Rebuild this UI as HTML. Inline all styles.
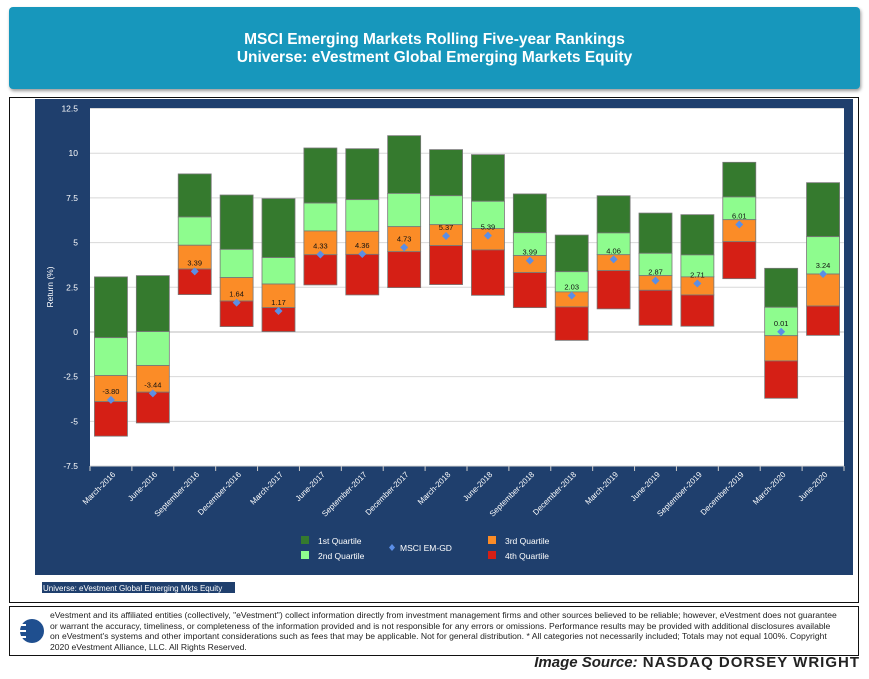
<!DOCTYPE html>
<html><head><meta charset="utf-8"><style>
body{margin:0;width:869px;height:679px;background:#fff;font-family:"Liberation Sans",Arial,sans-serif;position:relative;overflow:hidden}
#banner{position:absolute;left:9px;top:7px;width:851px;height:82px;background:#1797bc;border-radius:4px;box-shadow:1px 2px 3px #999;color:#fff;text-align:center;font-weight:bold;font-size:15.5px;line-height:18px;box-sizing:border-box;padding-top:24px}
#frame{position:absolute;left:9px;top:97px;width:850px;height:506px;border:1.5px solid #111;box-sizing:border-box}
#foot{position:absolute;left:9px;top:606px;width:850px;height:50px;border:1.5px solid #111;box-sizing:border-box;font-size:8.6px;letter-spacing:0px;color:#222;line-height:10.6px;padding:3px 0 0 40px;white-space:nowrap;overflow:hidden}
#src{position:absolute;right:9px;top:654px;font-size:15px;color:#222;letter-spacing:1px}
</style></head><body>
<div id="banner">MSCI Emerging Markets Rolling Five-year Rankings<br>Universe: eVestment Global Emerging Markets Equity</div>
<div id="frame"></div>
<svg id="chart" width="869" height="679" style="position:absolute;left:0;top:0"></svg>
<div id="foot">eVestment and its affiliated entities (collectively, "eVestment") collect information directly from investment management firms and other sources believed to be reliable; however, eVestment does not guarantee<br>or warrant the accuracy, timeliness, or completeness of the information provided and is not responsible for any errors or omissions. Performance results may be provided with additional disclosures available<br>on eVestment's systems and other important considerations such as fees that may be applicable. Not for general distribution. * All categories not necessarily included; Totals may not equal 100%. Copyright<br>2020 eVestment Alliance, LLC. All Rights Reserved.</div>
<div id="src"><i style="font-weight:bold;letter-spacing:0">Image Source:</i> <b>NASDAQ DORSEY WRIGHT</b></div>
<script>
const categories=["March-2016","June-2016","September-2016","December-2016","March-2017","June-2017","September-2017","December-2017","March-2018","June-2018","September-2018","December-2018","March-2019","June-2019","September-2019","December-2019","March-2020","June-2020"];
const q1Top=[3.08,3.15,8.84,7.66,7.46,10.29,10.25,10.98,10.2,9.92,7.72,5.42,7.62,6.65,6.56,9.49,3.56,8.35];
const q1q2=[-0.32,0.02,6.43,4.62,4.16,7.21,7.4,7.75,7.62,7.31,5.55,3.37,5.54,4.4,4.31,7.55,1.38,5.33];
const q2q3=[-2.44,-1.88,4.85,3.04,2.68,5.65,5.63,5.89,6.0,5.78,4.27,2.24,4.32,3.15,3.08,6.28,-0.21,3.24];
const q3q4=[-3.9,-3.37,3.52,1.73,1.36,4.32,4.34,4.49,4.83,4.59,3.32,1.4,3.43,2.33,2.07,5.05,-1.62,1.45];
const q4Bot=[-5.83,-5.09,2.09,0.3,0.02,2.63,2.07,2.48,2.65,2.05,1.36,-0.47,1.29,0.37,0.32,2.98,-3.71,-0.19];
const msci=[-3.80,-3.44,3.39,1.64,1.17,4.33,4.36,4.73,5.37,5.39,3.99,2.03,4.06,2.87,2.71,6.01,0.01,3.24];
const yTicks=[12.5,10,7.5,5,2.5,0,-2.5,-5,-7.5];
const NS='http://www.w3.org/2000/svg';
const svg=document.getElementById('chart');
const L=90,R=844,T=108.5,B=466,ymin=-7.5,ymax=12.5;
const y=v=>T+(ymax-v)/(ymax-ymin)*(B-T);
const bw=(R-L)/categories.length;
const xc=i=>L+bw*(i+0.5);
function mk(tag,at,txt){const e=document.createElementNS(NS,tag);for(const k in at)e.setAttribute(k,at[k]);if(txt!==undefined)e.textContent=txt;svg.appendChild(e);return e;}
let e=mk('rect',{x:35,y:99,width:818,height:476,fill:'#1f3f6d'});


e=mk('rect',{x:L,y:T,width:R-L,height:B-T,fill:'#fff'});


yTicks.forEach(t=>{
  e=mk('line',{x1:L,x2:R,y1:y(t),y2:y(t),stroke:t===0?'#ddd':'#d8d8d8','stroke-width':t===0?2:1});
  
  
  e=mk('text',{x:78,y:y(t)+3,'text-anchor':'end','font-size':8.5,fill:'#fff'},String(t));
  
  
});
e=mk('text',{x:0,y:0,transform:'translate(53,287) rotate(-90)','text-anchor':'middle','font-size':8.5,fill:'#fff'},'Return (%)');


const cols=['#357a2e','#8efc8e','#fb8c27','#d51f15'];
categories.forEach((c,i)=>{
  const x0=xc(i)-16.5;
  const segs=[[q1Top[i],q1q2[i]],[q1q2[i],q2q3[i]],[q2q3[i],q3q4[i]],[q3q4[i],q4Bot[i]]];
  const names=['q1','q2','q3','q4'];
  segs.forEach((s,k)=>{
    e=mk('rect',{x:x0,y:y(s[0]),width:33,height:y(s[1])-y(s[0]),fill:cols[k],stroke:'#777','stroke-width':0.8});
    
    
  });
  const my=y(msci[i]);
  e=mk('path',{d:`M${xc(i)},${my-4}L${xc(i)+4},${my}L${xc(i)},${my+4}L${xc(i)-4},${my}Z`,fill:'#5b8ee6'});
  
  
  e=mk('text',{x:xc(i),y:my-6,'text-anchor':'middle','font-size':7.5,fill:'#111'},msci[i].toFixed(2));
  
  
  e=mk('line',{x1:L+bw*i,x2:L+bw*i,y1:B,y2:B+5,stroke:'#ccc'});
  
  
  e=mk('text',{x:0,y:0,transform:`translate(${xc(i)+5},${B+9}) rotate(-45)`,'text-anchor':'end','font-size':8,fill:'#fff'},c);
  
  
});
e=mk('line',{x1:R,x2:R,y1:B,y2:B+5,stroke:'#ccc'});


const leg=[[301,536,cols[0],'1st Quartile'],[301,551,cols[1],'2nd Quartile'],[488,536,cols[2],'3rd Quartile'],[488,551,cols[3],'4th Quartile']];
leg.forEach(l=>{
  e=mk('rect',{x:l[0],y:l[1],width:8,height:8,fill:l[2]});
  
  
  e=mk('text',{x:l[0]+17,y:l[1]+8,'font-size':8.5,fill:'#fff'},l[3]);
  
  
});
e=mk('path',{d:'M392,544L395,547.5L392,551L389,547.5Z',fill:'#5b8ee6'});


e=mk('text',{x:400,y:551,'font-size':8.5,fill:'#fff'},'MSCI EM-GD');


e=mk('rect',{x:42,y:582,width:193,height:11,fill:'#1f3f6d'});


e=mk('text',{x:43,y:591,'font-size':8,fill:'#fff'},'Universe: eVestment Global Emerging Mkts Equity');


e=mk('circle',{cx:32,cy:631,r:12,fill:'#1f4f8f'});


[625,631,637].forEach(yy=>{e=mk('line',{x1:18,x2:26,y1:yy,y2:yy,stroke:'#fff','stroke-width':2});

});
</script>
</body></html>
